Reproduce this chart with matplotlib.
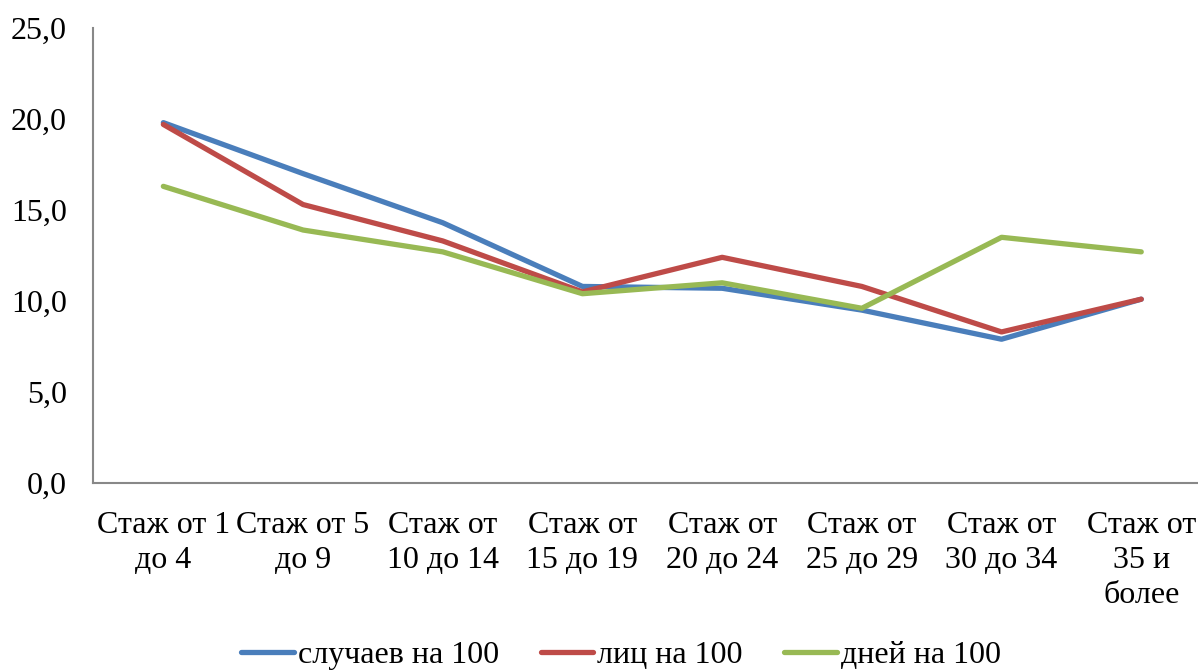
import matplotlib
matplotlib.use("Agg")
import matplotlib.pyplot as plt

categories = ["Стаж от 1\nдо 4", "Стаж от 5\nдо 9", "Стаж от\n10 до 14", "Стаж от\n15 до 19",
              "Стаж от\n20 до 24", "Стаж от\n25 до 29", "Стаж от\n30 до 34", "Стаж от\n35 и\nболее"]
cases = [19.8, 17.0, 14.3, 10.8, 10.7, 9.5, 7.9, 10.1]
persons = [19.7, 15.3, 13.3, 10.5, 12.4, 10.8, 8.3, 10.1]
days = [16.3, 13.9, 12.7, 10.4, 11.0, 9.6, 13.5, 12.7]
series_names = ["случаев на 100", "лиц на 100", "дней на 100"]
colors = ["#4A7EBB", "#BE4B48", "#98B954"]
yticks = [0, 5, 10, 15, 20, 25]

plt.rcParams['font.family'] = ['Liberation Serif', 'DejaVu Serif']
fs = 23

fig = plt.figure(figsize=(11.98, 6.71), dpi=100)
W, H = 1198, 671
ax = fig.add_axes([93.5 / W, (H - 483) / H, 1117.6 / W, 455 / H])

x = list(range(len(categories)))
for vals, name, c in zip([cases, persons, days], series_names, colors):
    ax.plot(x, vals, color=c, lw=3.8, label=name, solid_capstyle='round', solid_joinstyle='round')

ax.set_xlim(-0.5, len(categories) - 0.5)
ax.set_ylim(0, 25)
ax.set_yticks(yticks)
ax.set_yticklabels([f"{v:.1f}".replace('.', ',') for v in yticks], fontsize=fs)
ax.set_xticks(x)
ax.set_xticklabels(categories, fontsize=fs, linespacing=1.28)
ax.tick_params(axis='both', length=0)
ax.tick_params(axis='y', pad=19)
ax.tick_params(axis='x', pad=20)
for s in ['top', 'right']:
    ax.spines[s].set_visible(False)
for s in ['left', 'bottom']:
    ax.spines[s].set_color('#888888')
    ax.spines[s].set_linewidth(1.5)

fig.legend(loc='center', bbox_to_anchor=(621 / W, 1 - 655 / H), ncol=3, frameon=False,
           fontsize=fs, handlelength=1.65, handletextpad=0.12, columnspacing=1.3)

fig.savefig("out.png", dpi=100)
